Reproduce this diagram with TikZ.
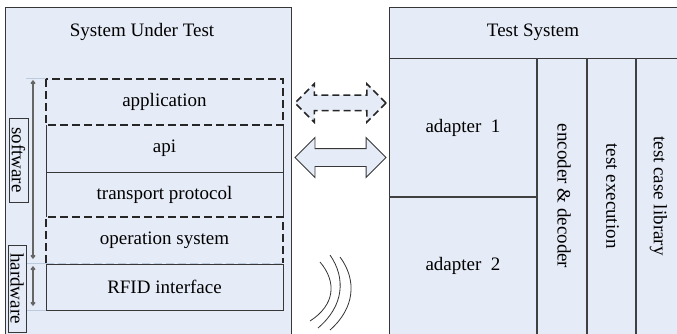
\documentclass[tikz,border=0pt]{standalone}
\usepackage{fontspec}
\setmainfont{Liberation Serif}
\usetikzlibrary{shapes.arrows,arrows.meta}
\definecolor{panel}{RGB}{230,236,247}
\definecolor{edge}{RGB}{55,55,55}
\definecolor{guide}{RGB}{188,202,222}

\begin{document}
\begin{tikzpicture}[x=1pt,y=-1pt,
  font=\fontsize{19}{22}\selectfont,
  panelbox/.style={draw=edge, fill=panel, line width=0.9pt, anchor=north west, inner sep=0pt},
  layer/.style={rectangle, minimum width=237pt, inner sep=0pt, outer sep=0pt},
  frame/.style={draw=edge, line width=0.9pt},
  colline/.style={draw=black!75, line width=1.2pt},
  dashbox/.style={draw=black!85, line width=1.4pt, dash pattern=on 8pt off 4pt},
  guideline/.style={draw=guide, line width=1pt},
  tag/.style={draw=edge, line width=0.8pt, rotate=-90, inner sep=0pt},
  span/.style={draw=black!60, line width=1.4pt, {Straight Barb[length=2.5pt,width=4pt]}-{Straight Barb[length=2.5pt,width=4pt]}},
  cell/.style={anchor=north west, inner sep=0pt, outer sep=0pt},
  wave/.style={draw=black!80, line width=0.8pt}
]
\useasboundingbox (0,0) rectangle (677,334);
\clip (0,0) rectangle (677,334);

% ---- system under test ----
\node[panelbox, minimum width=286pt, minimum height=345pt] (sut) at (4.5,7) {};
\node (suttitle) at (142,32) {System Under Test};

\node[layer, minimum height=46pt] (app) at (164.5,102) {application};
\node[layer, minimum height=47pt] (api) at (164.5,148.5) {api};
\node[layer, minimum height=45pt] (tp) at (164.5,194.5) {transport protocol};
\node[layer, minimum height=46pt] (os) at (164.5,240) {operation system};
\node[layer, frame, minimum height=46pt] (rfid) at (164.5,287) {RFID interface};

% solid middle layers
\draw[frame] (api.north west) -- (tp.south west);
\draw[frame] (api.north east) -- (tp.south east);
\draw[frame] (api.south west) -- (api.south east);

% dashed layers
\draw[dashbox] (app.north west) rectangle (app.south east);
\draw[dashbox] (os.south west) -- (os.north west) -- (os.north east) -- (os.south east);
\draw[guide, line width=1pt, dash pattern=on 8pt off 4pt] (os.south west) -- (os.south east);

% guide lines for the software / hardware spans
\draw[guideline] (app.north west) -- ++(-20,0);
\draw[guideline] (os.south west) -- ++(-20,0);
\draw[guideline] (rfid.south west) -- ++(-20,0);

\coordinate (swtop) at (33,80);
\coordinate (swbot) at (33,259);
\coordinate (hwtop) at (33,266);
\coordinate (hwbot) at (33,306);
\draw[span] (swtop) -- (swbot);
\draw[span] (hwtop) -- (hwbot);

\node[tag, minimum width=84pt, minimum height=19pt] (sw) at (18.5,160) {software};
\node[tag, minimum width=87pt, minimum height=18pt] (hw) at (17,288.5) {hardware};

% ---- links ----
\node[double arrow, draw=black!85, fill=panel, line width=1.5pt,
      dash pattern=on 7pt off 4pt, minimum height=91pt,
      inner xsep=0pt, inner ysep=7pt, double arrow head extend=11.5pt] (dlink) at (340.5,103) {};
\node[double arrow, draw=edge, fill=panel, line width=0.9pt,
      minimum height=91pt, inner xsep=0pt, inner ysep=8.5pt,
      double arrow head extend=11pt] (slink) at (340.5,157.5) {};

% radio waves
\draw[wave] (320,262) .. controls (337,282) and (335,305) .. (310,321);
\draw[wave] (330,255) .. controls (346,278) and (344,306) .. (318,328);
\draw[wave] (340,257) .. controls (357,280) and (355,308) .. (330,330);

% ---- test system ----
\node[panelbox, minimum width=300pt, minimum height=345pt] (ts) at (389,7) {};
\node[cell, minimum width=288pt, minimum height=51pt] (tshead) at (389,7) {Test System};
\node[cell, minimum width=148pt, minimum height=139pt] (ad1) at (389,58) {adapter\ \ 1};
\node[cell, minimum width=148pt, minimum height=137pt] (ad2) at (389,197) {adapter\ \ 2};
\node[cell, minimum width=50pt, minimum height=276pt] (enc) at (537,58) {};
\node[cell, minimum width=49pt, minimum height=276pt] (exe) at (587,58) {};
\node[cell, minimum width=41pt, minimum height=276pt] (lib) at (636,58) {};
\node[rotate=-90] (enctext) at ([xshift=2pt]enc.center) {encoder \& decoder};
\node[rotate=-90] (exetext) at ([xshift=1pt]exe.center) {test execution};
\node[rotate=-90] (libtext) at ([xshift=2pt]lib.center) {test case library};

\draw[frame] (tshead.south west) -- ++(300,0);
\draw[colline] (ad1.south west) -- (ad1.south east);
\draw[colline] (enc.north west) -- ++(0,290);
\draw[colline] (exe.north west) -- ++(0,290);
\draw[colline] (lib.north west) -- ++(0,290);
\end{tikzpicture}
\end{document}
